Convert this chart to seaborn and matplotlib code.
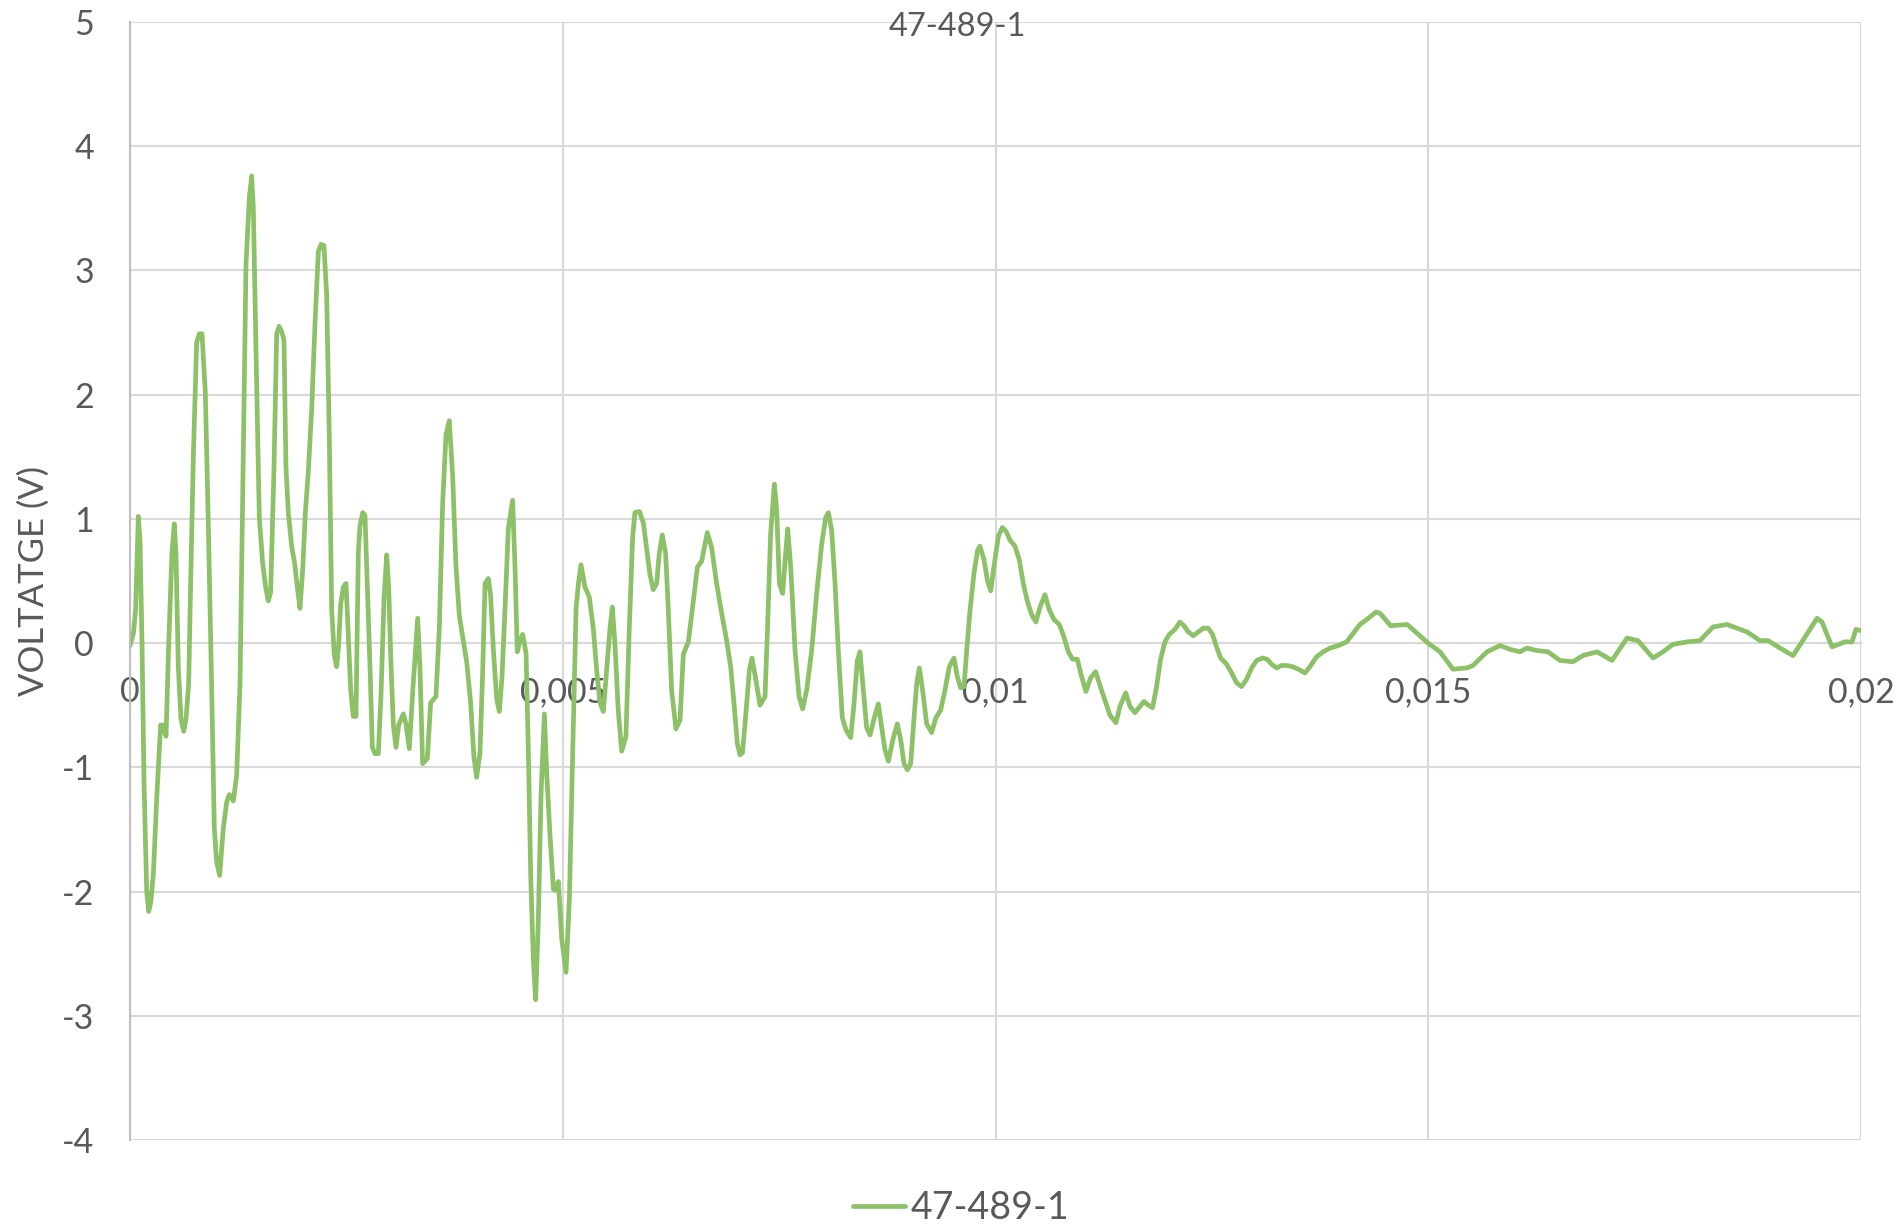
import numpy as np
import matplotlib
matplotlib.use("Agg")
import matplotlib.pyplot as plt
import pandas as pd
import seaborn as sns

# time in milliseconds
t_ms = [0, 0.04, 0.065, 0.096, 0.116, 0.139, 0.162, 0.193, 0.216, 0.239, 0.27, 0.308, 0.354, 0.377, 0.416, 0.447,
        0.485, 0.512, 0.531, 0.558, 0.589, 0.62, 0.647, 0.678, 0.701, 0.732, 0.77, 0.801, 0.832, 0.87, 0.905, 0.944,
        0.974, 1.001, 1.036, 1.078, 1.117, 1.148, 1.194, 1.232, 1.271, 1.302, 1.34, 1.379, 1.406, 1.425, 1.456, 1.494,
        1.533, 1.567, 1.598, 1.625, 1.664, 1.695, 1.722, 1.752, 1.779, 1.802, 1.829, 1.868, 1.903, 1.933, 1.964, 1.995,
        2.026, 2.06, 2.099, 2.138, 2.176, 2.207, 2.241, 2.272, 2.303, 2.33, 2.361, 2.388, 2.411, 2.434, 2.465, 2.496,
        2.523, 2.55, 2.58, 2.611, 2.638, 2.657, 2.688, 2.715, 2.742, 2.773, 2.8, 2.831, 2.869, 2.9, 2.935, 2.966,
        2.989, 3.012, 3.043, 3.073, 3.104,
        3.158, 3.189, 3.227, 3.273, 3.324, 3.351, 3.381, 3.435, 3.474, 3.535, 3.574, 3.612, 3.651, 3.689, 3.728, 3.766,
        3.805, 3.851, 3.89, 3.936, 3.974, 4.005, 4.044, 4.075, 4.102, 4.14, 4.167, 4.198, 4.237, 4.267, 4.298, 4.333,
        4.371, 4.421, 4.448, 4.475, 4.506, 4.537, 4.576, 4.603, 4.63, 4.66, 4.687, 4.718, 4.749, 4.788, 4.815, 4.853,
        4.892, 4.911, 4.95, 4.988, 5.038, 5.077, 5.115, 5.154, 5.181, 5.211, 5.257, 5.307, 5.353, 5.392, 5.43, 5.469,
        5.507, 5.546, 5.573, 5.604, 5.642, 5.681, 5.73, 5.769, 5.807, 5.834, 5.885, 5.931, 5.977, 6.008, 6.046, 6.085,
        6.115, 6.15, 6.189, 6.219, 6.258, 6.308,
        6.355, 6.393, 6.451, 6.509, 6.555, 6.605, 6.67, 6.72, 6.778, 6.836, 6.894, 6.94, 6.979, 7.017, 7.048, 7.078,
        7.125, 7.156, 7.186, 7.225, 7.279, 7.337, 7.364, 7.402, 7.445, 7.472, 7.503, 7.541, 7.572, 7.599, 7.634, 7.684,
        7.73, 7.772, 7.818, 7.876, 7.934, 7.992, 8.038, 8.069, 8.107, 8.146, 8.184, 8.23, 8.273, 8.327, 8.365, 8.404,
        8.434, 8.473, 8.511, 8.55, 8.6, 8.646, 8.685, 8.723, 8.762, 8.82, 8.866, 8.905, 8.943, 8.982, 9.02, 9.059,
        9.089, 9.12, 9.158, 9.205, 9.262, 9.312, 9.366, 9.416, 9.466, 9.52, 9.559, 9.597, 9.636, 9.667, 9.705, 9.751,
        9.794,
        9.821, 9.867, 9.906, 9.944, 9.983, 10.033, 10.079, 10.121, 10.167, 10.225, 10.275, 10.321, 10.367, 10.417,
        10.467, 10.514, 10.571, 10.621, 10.675, 10.737, 10.791, 10.841, 10.891, 10.945, 10.995, 11.045, 11.099,
        11.157, 11.207, 11.265, 11.322, 11.392, 11.438, 11.504, 11.554, 11.611, 11.669, 11.715, 11.765, 11.815,
        11.861, 11.907, 11.958, 12.008, 12.073, 12.131, 12.177, 12.227, 12.285, 12.343, 12.4, 12.458, 12.508,
        12.554, 12.601, 12.67, 12.728, 12.786, 12.844, 12.902, 12.959, 13.017, 13.086, 13.14, 13.19, 13.248,
        13.306, 13.364, 13.433, 13.498, 13.576, 13.633, 13.71, 13.787, 13.864, 13.96, 14.057, 14.134, 14.211,
        14.308, 14.396,
        14.443, 14.566, 14.755, 14.87, 14.997, 15.136, 15.286, 15.448, 15.517, 15.679, 15.829, 15.945, 16.06,
        16.141, 16.257, 16.384, 16.522, 16.672, 16.788, 16.95, 17.123, 17.296, 17.423, 17.597, 17.712, 17.828,
        17.99, 18.14, 18.29, 18.452, 18.683, 18.833, 18.926, 19.064, 19.214, 19.318, 19.492, 19.549, 19.665,
        19.815, 19.896, 19.942, 20.0]

volt = [-0.02, 0.08, 0.27, 1.02, 0.82, -0.01, -1.12, -2.0, -2.16, -2.09, -1.86, -1.26, -0.66, -0.66, -0.75, -0.01,
        0.73, 0.96, 0.73, -0.19, -0.61, -0.71, -0.61, -0.33, 0.5, 1.51, 2.42, 2.49, 2.49, 2.02, 0.96, -0.38,
        -1.49, -1.76, -1.87, -1.49, -1.28, -1.22, -1.27, -1.07, -0.33, 1.19, 3.04, 3.59, 3.76, 3.5, 2.35, 1.01,
        0.64, 0.45, 0.34, 0.41, 1.42, 2.49, 2.55, 2.51, 2.44, 1.42, 1.05, 0.78, 0.64, 0.45, 0.28, 0.59,
        1.05, 1.38, 1.88, 2.58, 3.15, 3.21, 3.2, 2.81, 1.65, 0.27, -0.1, -0.19, -0.01, 0.31, 0.45, 0.48,
        0.04, -0.38, -0.59, -0.59, 0.73, 0.94, 1.05, 1.03, 0.45, -0.19, -0.84, -0.89, -0.89, -0.42, 0.36, 0.71,
        0.45, -0.1, -0.66, -0.84, -0.66,
        -0.57, -0.65, -0.85, -0.32, 0.2, -0.22, -0.97, -0.93, -0.48, -0.43, 0.12, 1.12, 1.68, 1.79, 1.35, 0.62,
        0.22, 0.02, -0.15, -0.48, -0.92, -1.08, -0.88, -0.22, 0.48, 0.52, 0.38, -0.05, -0.45, -0.55, -0.28, 0.28,
        0.92, 1.15, 0.62, -0.07, 0.02, 0.07, -0.08, -0.88, -1.88, -2.55, -2.87, -2.22, -1.22, -0.57, -1.05, -1.55,
        -1.98, -1.99, -1.92, -2.38, -2.65, -2.05, -0.88, 0.28, 0.48, 0.63, 0.45, 0.37, 0.12, -0.22, -0.48, -0.55,
        -0.22, 0.12, 0.29, -0.02, -0.55, -0.87, -0.75, 0.12, 0.85, 1.05, 1.06, 0.97, 0.72, 0.55, 0.43, 0.48,
        0.72, 0.87, 0.72, 0.28, -0.38, -0.69,
        -0.62, -0.09, 0.01, 0.34, 0.61, 0.66, 0.89, 0.77, 0.48, 0.24, 0.02, -0.19, -0.49, -0.81, -0.9, -0.88,
        -0.49, -0.22, -0.12, -0.27, -0.5, -0.43, 0.08, 0.88, 1.28, 1.07, 0.48, 0.4, 0.69, 0.92, 0.61, -0.06,
        -0.43, -0.53, -0.38, -0.06, 0.4, 0.8, 1.01, 1.05, 0.91, 0.48, -0.06, -0.6, -0.7, -0.76, -0.49, -0.14,
        -0.07, -0.38, -0.68, -0.74, -0.6, -0.49, -0.68, -0.86, -0.95, -0.76, -0.65, -0.78, -0.97, -1.02, -0.97, -0.6,
        -0.33, -0.2, -0.38, -0.65, -0.72, -0.6, -0.54, -0.38, -0.19, -0.12, -0.27, -0.36, -0.35, -0.06, 0.26, 0.56,
        0.75,
        0.78, 0.67, 0.51, 0.42, 0.62, 0.86, 0.93, 0.9, 0.83, 0.78, 0.67, 0.48, 0.34, 0.23,
        0.17, 0.29, 0.39, 0.27, 0.19, 0.15, 0.05, -0.07, -0.13, -0.13, -0.27, -0.39, -0.28,
        -0.23, -0.34, -0.46, -0.58, -0.64, -0.51, -0.4, -0.51, -0.56, -0.51, -0.47, -0.5, -0.52,
        -0.35, -0.13, 0.01, 0.07, 0.11, 0.17, 0.14, 0.09, 0.06, 0.09, 0.12, 0.12, 0.07,
        -0.03, -0.12, -0.17, -0.24, -0.32, -0.35, -0.29, -0.2, -0.14, -0.12, -0.13, -0.17, -0.2,
        -0.18, -0.18, -0.19, -0.21, -0.24, -0.19, -0.11, -0.07, -0.04, -0.02, 0.01, 0.08, 0.15,
        0.2, 0.25,
        0.24, 0.14, 0.15, 0.08, 0.0, -0.07, -0.21, -0.2, -0.18, -0.07, -0.02, -0.05, -0.07,
        -0.04, -0.06, -0.07, -0.14, -0.15, -0.1, -0.07, -0.14, 0.04, 0.02, -0.12, -0.07, -0.01,
        0.01, 0.02, 0.13, 0.15, 0.09, 0.02, 0.02, -0.04, -0.1, 0.01, 0.2, 0.17, -0.03,
        0.01, 0.01, 0.11, 0.1]

series_name = "47-489-1"
x_ticks = [0, 0.005, 0.01, 0.015, 0.02]
x_ticklabels = ["0", "0,005", "0,01", "0,015", "0,02"]
y_ticks = [-4, -3, -2, -1, 0, 1, 2, 3, 4, 5]

df = pd.DataFrame({"time": np.array(t_ms) / 1000.0, "volt": volt})
df["serie"] = series_name

sns.set_style("white")
plt.rcParams["font.family"] = ["Lato", "DejaVu Sans"]

txt = "#595959"
grid = "#d9d9d9"
axc = "#bfbfbf"
green = "#8cc168"

fig = plt.figure(figsize=(19.01, 12.29), dpi=100)
ax = fig.add_axes([130 / 1901, 1 - 1140 / 1229, (1861 - 130) / 1901, (1140 - 22) / 1229])

sns.lineplot(data=df, x="time", y="volt", hue="serie", palette=[green], linewidth=3.4,
             sort=False, ax=ax, legend=True)

ax.set_xlim(0, 0.02)
ax.set_ylim(-4, 5)
ax.set_xticks(x_ticks)
ax.set_xticklabels(x_ticklabels)
ax.set_yticks(y_ticks)
ax.set_yticklabels([str(v) for v in y_ticks])

ax.grid(True, color=grid, linewidth=1.5)
ax.set_axisbelow(True)
for s in ["top", "right"]:
    ax.spines[s].set_visible(False)
ax.spines["left"].set_color(axc)
ax.spines["left"].set_linewidth(1.5)
ax.spines["bottom"].set_position(("data", 0))
ax.spines["bottom"].set_color(axc)
ax.spines["bottom"].set_linewidth(1.5)
ax.spines["bottom"].set_zorder(0.5)

ax.tick_params(axis="both", length=0, labelsize=24.5, labelcolor=txt)
ax.tick_params(axis="x", pad=24)
ax.tick_params(axis="y", pad=26)

ax.set_xlabel("")
ax.set_ylabel("VOLTATGE (V)", fontsize=25, color=txt)
ax.yaxis.label.set_va("center")
ax.yaxis.set_label_coords(-(130 - 34) / 1731, 0.5)

fig.text(957 / 1901, 1 - 27 / 1229, series_name, ha="center", va="center",
         fontsize=23.5, color=txt)

handles, labels = ax.get_legend_handles_labels()
ax.legend(handles, labels, loc="center", bbox_to_anchor=(961 / 1901, 1 - 1208 / 1229),
          bbox_transform=fig.transFigure, frameon=False, fontsize=27, labelcolor=txt,
          handlelength=1.4, handletextpad=0.15)

fig.savefig("out.png", dpi=100)
